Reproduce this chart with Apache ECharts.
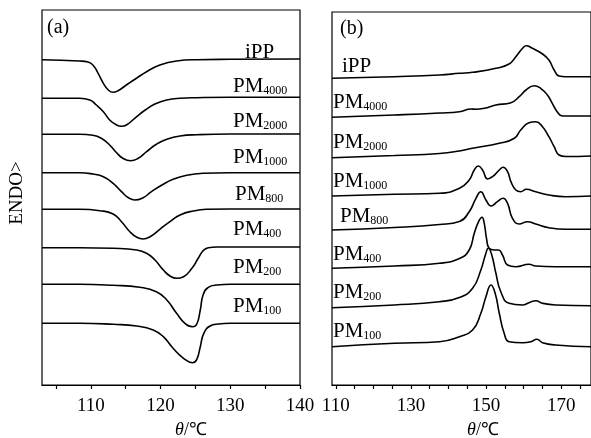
<!DOCTYPE html>
<html>
<head>
<meta charset="utf-8">
<script src="https://cdn.jsdelivr.net/npm/echarts@6/dist/echarts.min.js"></script>
<style>
  html, body { margin: 0; padding: 0; background: #fff; }
  #main { width: 591px; height: 438px; }
</style>
</head>
<body>
<div id="main"></div>
<script>
// (a) cooling curves: [temperature °C, signal offset]
const coolIPP = [[103, 325.3], [108.4, 324], [109.6, 323], [110.3, 320], [111.05, 311.7], [111.8, 301.7], [112.5, 295], [113.2, 292.7], [113.9, 294.3], [115.1, 300], [116.6, 307], [118, 313.3], [119.9, 320], [122.3, 324], [125.2, 325.3], [130, 325.7], [140, 326]]
const cool4000 = [[103, 286.7], [108.4, 286.7], [109.85, 285], [110.8, 280], [111.8, 273.3], [112.7, 265], [113.7, 260], [114.4, 258.7], [115.1, 260], [116.3, 266.7], [117.8, 275], [119.2, 281], [120.9, 285], [122.8, 286.7], [125.2, 287.3], [130, 287.7], [140, 287.7]]
const cool2000 = [[103, 250.7], [108.4, 250.7], [110.3, 249.7], [111.5, 246.7], [112.7, 240], [113.7, 232.3], [114.6, 226.7], [115.7, 224.3], [116.8, 226.7], [118, 233.3], [119.4, 240.7], [120.9, 245.7], [122.8, 249], [125.2, 250.3], [130, 251], [140, 251]]
const cool1000 = [[103, 212.3], [108.4, 212.3], [110.3, 211], [111.8, 208.3], [113.2, 201.7], [114.4, 193.3], [115.4, 187.3], [116.3, 185], [117.5, 187.3], [118.7, 193.3], [120.2, 200], [121.8, 205.7], [123.75, 209.7], [126.1, 211.7], [130, 212.3], [140, 212.3]]
const cool800 = [[103, 175.7], [108.4, 175.7], [111.3, 174.3], [113.2, 171], [114.4, 163.3], [115.6, 153.3], [116.6, 147.7], [117.5, 146], [118.5, 148.3], [119.9, 155.7], [121.35, 163.3], [122.8, 170], [124.7, 174], [126.6, 175.7], [130, 176], [140, 176]]
const cool400 = [[103, 137.3], [108.4, 137.3], [113.2, 136.7], [116.6, 135], [118, 131.7], [119.2, 125], [120.4, 115], [121.35, 109], [122.3, 106.7], [123.3, 108.3], [124.5, 116.7], [125.4, 126.7], [126.1, 134.3], [126.85, 137.3], [128.1, 138], [130, 138], [140, 138]]
const cool200 = [[103, 100.7], [108.4, 100.7], [113.2, 99.7], [117, 97.7], [119.4, 93.3], [120.9, 85], [122.3, 71.7], [123.5, 61.7], [124.6, 58.3], [125.2, 61], [125.7, 75], [126.1, 90], [126.85, 97.7], [128.1, 100], [130, 100.7], [140, 100.7]]
const cool100 = [[103, 61.7], [108.4, 61.7], [113.2, 60.7], [116.6, 59], [118.95, 55], [120.4, 48.3], [121.8, 36.7], [123.3, 26.7], [124.6, 22.3], [125.2, 25.7], [125.7, 38.3], [126.2, 51.7], [127.1, 59], [128.3, 61], [130, 61.7], [140, 61.7]]

// (b) melting curves
const meltIPP = [[109, 306.7], [125.6, 308.3], [137.6, 310], [142.9, 311.7], [146.4, 312.7], [152.6, 316.7], [156.1, 321], [157.9, 328.3], [159.7, 336.7], [160.7, 339.3], [162.3, 336.7], [165, 331], [166.7, 325], [168.1, 315], [169.4, 309], [171.2, 308.3], [177.9, 308.3]]
const melt4000 = [[109, 267.7], [125.6, 270], [137.6, 272], [142.9, 273.3], [146, 276], [147.3, 275.7], [149.5, 276.7], [152.6, 280], [156.6, 282.3], [158.8, 288.3], [160.6, 295], [162.8, 299.3], [164.5, 296.7], [166.3, 290], [167.6, 281.7], [168.9, 273.3], [170.3, 269], [177.9, 269]]
const melt2000 = [[109, 227.3], [125.6, 229.5], [137.6, 231.5], [142.9, 234], [146.4, 236.7], [153.5, 241.7], [157.5, 246.7], [159.2, 255], [161.4, 262.3], [163.2, 263.3], [165, 258.3], [166.7, 248.3], [168.1, 238.3], [169.4, 230], [171.2, 228.5], [177.9, 229]]
const melt1000 = [[109, 189], [125.6, 190.7], [137.6, 191.7], [142.9, 196.7], [145.5, 205], [146.85, 215], [147.9, 219], [149.05, 215], [150.4, 206], [151.7, 208.3], [153.5, 215], [154.5, 217.7], [155.7, 213.3], [156.6, 203.3], [157.9, 195], [159.2, 193.3], [160.7, 195.7], [163.2, 193.3], [166.7, 190], [171.2, 188.3], [177.9, 189]]
const melt800 = [[109, 155], [125.6, 157.5], [137.6, 160.5], [142.9, 163.5], [145.5, 173.3], [147.3, 186.7], [148.6, 193.3], [149.95, 185], [151.3, 179], [153, 183.3], [154.5, 186.7], [155.7, 181.7], [157, 166.7], [158.8, 161], [161, 163.3], [163.2, 161], [166.7, 157.3], [171.2, 155.7], [177.9, 155.7]]
const melt400 = [[109, 116.7], [125.6, 119], [137.6, 121.7], [142.9, 126.5], [145.5, 135], [146.85, 151.7], [148, 163.3], [148.9, 167.7], [149.5, 161.7], [150.1, 146.7], [150.8, 136.7], [152.15, 135], [153.3, 135], [154.35, 130], [155.7, 120], [157.9, 118.3], [161.4, 120.7], [163.2, 119], [168.5, 118.3], [177.9, 118.3]]
const melt200 = [[109, 77.3], [125.6, 80], [137.6, 83.3], [142.9, 87.5], [146.4, 96.7], [148.6, 115], [149.8, 130], [150.6, 136.7], [151.5, 130], [152.6, 111.7], [153.9, 93.3], [156.1, 81.7], [159.7, 80], [161.4, 82.3], [163.2, 84.3], [165, 81.7], [168.5, 80], [177.9, 79.3]]
const melt100 = [[109, 38.3], [125.6, 41.7], [137.6, 43.3], [142.9, 48.3], [146.4, 55], [148.6, 71.7], [149.95, 88.3], [151.3, 100], [152.4, 91.7], [153.5, 71.7], [154.8, 51.7], [156.1, 43.3], [159.7, 42.3], [161.9, 43.3], [163.5, 45.7], [165, 42.3], [168.5, 40], [177.9, 38.3]]

const sampleBase = ['iPP', 'PM', 'PM', 'PM', 'PM', 'PM', 'PM', 'PM']
const sampleSub = ['', '4000', '2000', '1000', '800', '400', '200', '100']

const ticksA = [105, 110, 115, 120, 125, 130, 135, 140]
const labelsA = [110, 120, 130, 140]
const ticksB = [110, 115, 120, 125, 130, 135, 140, 145, 150, 155, 160, 165, 170, 175]
const labelsB = [110, 130, 150, 170]

const FONT = '"Liberation Serif", "Times New Roman", serif'
const coolCurves = [coolIPP, cool4000, cool2000, cool1000, cool800, cool400, cool200, cool100]
const meltCurves = [meltIPP, melt4000, melt2000, melt1000, melt800, melt400, melt200, melt100]

function xAxis(gridIndex, min, max, ticks, labels) {
  return {
    type: 'value', gridIndex, min, max,
    axisLine: { lineStyle: { color: '#000', width: 1.2 } },
    axisTick: { customValues: ticks, length: 4, lineStyle: { color: '#000', width: 1.2 } },
    axisLabel: { customValues: labels, margin: 12, color: '#000', fontFamily: FONT, fontSize: 19 },
    splitLine: { show: false }
  }
}

function curveSeries(data, idx) {
  return {
    type: 'line', xAxisIndex: idx, yAxisIndex: idx, data,
    smooth: 0.5, symbol: 'none', silent: true,
    lineStyle: { color: '#000', width: 1.6 }
  }
}

const rich = {
  m: { fontSize: 21, fontFamily: FONT, fill: '#000', verticalAlign: 'bottom', lineHeight: 22 },
  s: { fontSize: 12, fontFamily: FONT, fill: '#000', verticalAlign: 'bottom', lineHeight: 22 }
}
function sampleLabel(i, x, y) {
  let text = `{m|${sampleBase[i]}}` + (sampleSub[i] ? `{s|${sampleSub[i]}}` : '')
  return { type: 'text', x, y, silent: true, style: { text, rich, align: 'left', verticalAlign: 'middle' } }
}

// label anchor points in pixels (left edge, cap middle)
const posA = [[245, 52], [233, 86], [233, 121], [233, 157], [235, 194], [233, 229], [233, 267], [233, 306]]
const posB = [[342, 66], [333, 102], [333, 142], [333, 181], [340, 216], [333, 254], [333, 292], [333, 331]]

const graphic = []
posA.forEach((p, i) => graphic.push(sampleLabel(i, p[0], p[1])))
posB.forEach((p, i) => graphic.push(sampleLabel(i, p[0], p[1])))
graphic.push(
  { type: 'text', x: 47, y: 28, style: { text: '(a)', font: `20px ${FONT}`, fill: '#000', verticalAlign: 'middle' } },
  { type: 'text', x: 340, y: 29, style: { text: '(b)', font: `20px ${FONT}`, fill: '#000', verticalAlign: 'middle' } },
  { type: 'text', x: 17, y: 193, rotation: Math.PI / 2,
    style: { text: 'ENDO>', font: `19px ${FONT}`, fill: '#000', align: 'center', verticalAlign: 'middle' } }
)
const thetaRich = {
  i: { fontSize: 18, fontFamily: FONT, fontStyle: 'italic', fill: '#000' },
  n: { fontSize: 18, fontFamily: FONT, fill: '#000' }
}
graphic.push(
  { type: 'text', x: 191, y: 430, style: { text: '{i|θ}{n|/℃}', rich: thetaRich, align: 'center', verticalAlign: 'middle' } },
  { type: 'text', x: 483, y: 430, style: { text: '{i|θ}{n|/℃}', rich: thetaRich, align: 'center', verticalAlign: 'middle' } }
)

const chart = echarts.init(document.getElementById('main'))
chart.setOption({
  animation: false,
  backgroundColor: '#fff',
  grid: [
    { left: 42, top: 10, width: 258, height: 375, show: true, borderColor: '#000', borderWidth: 1.2 },
    { left: 332, top: 12, width: 260, height: 373, show: true, borderColor: '#000', borderWidth: 1.2 }
  ],
  xAxis: [
    xAxis(0, 103, 140, ticksA, labelsA),
    xAxis(1, 109, 177.9, ticksB, labelsB)
  ],
  yAxis: [
    { type: 'value', gridIndex: 0, min: 0, max: 375, show: false },
    { type: 'value', gridIndex: 1, min: 0, max: 373, show: false }
  ],
  series: [
    ...coolCurves.map(d => curveSeries(d, 0)),
    ...meltCurves.map(d => curveSeries(d, 1))
  ],
  graphic
})
</script>
</body>
</html>
